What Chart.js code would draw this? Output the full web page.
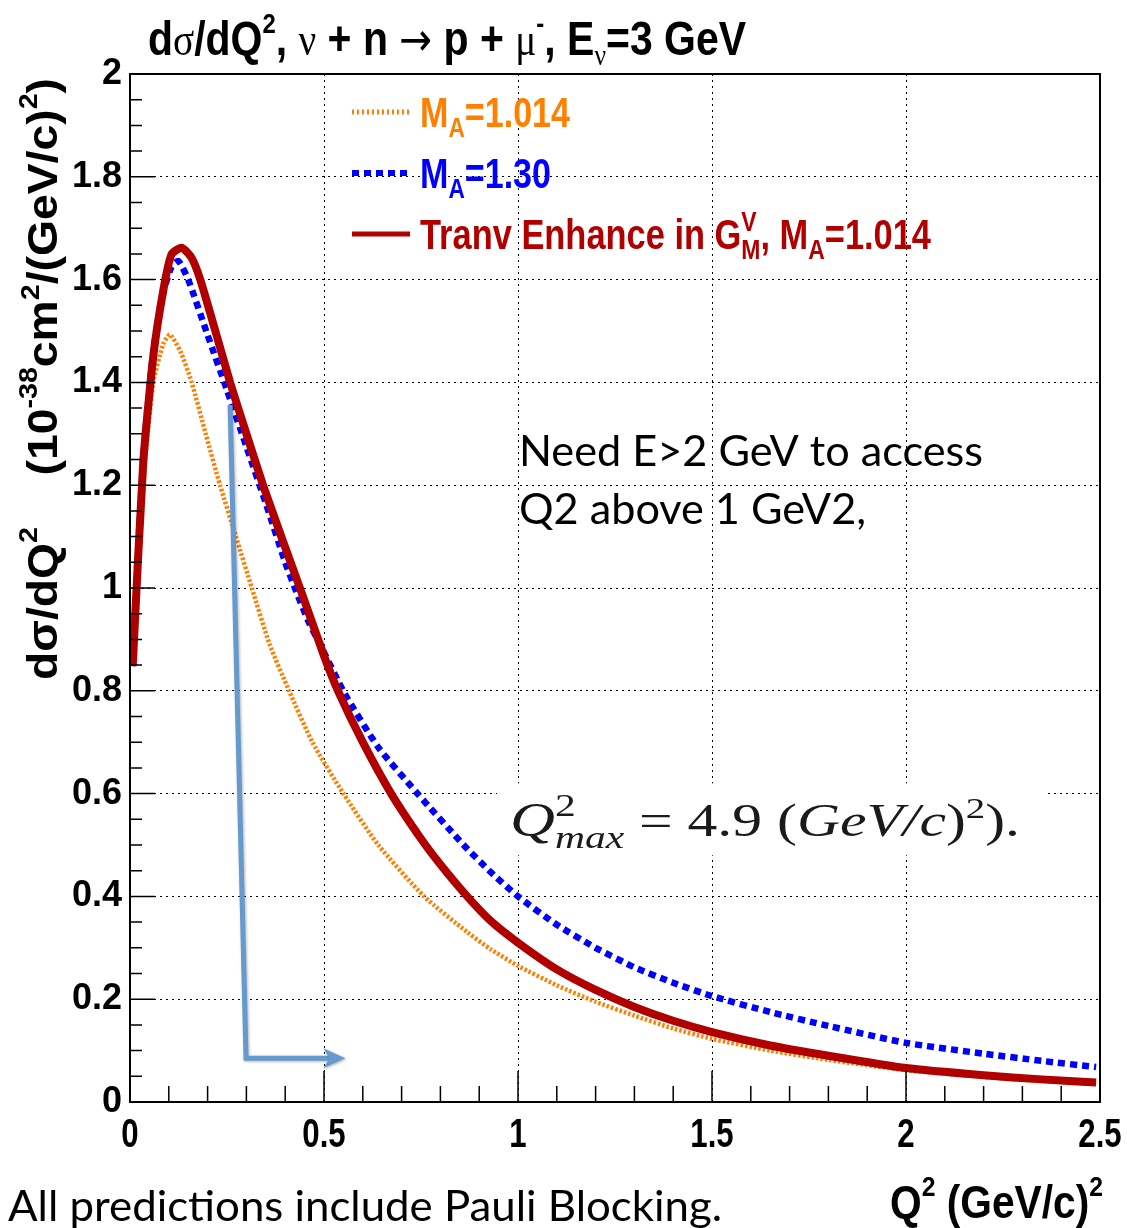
<!DOCTYPE html>
<html>
<head>
<meta charset="utf-8">
<script src="https://cdn.jsdelivr.net/npm/chart.js@4.4.1/dist/chart.umd.min.js"></script>
<style>
  body { margin: 0; background: #fff; }
  #wrap { width: 1127px; height: 1228px; position: relative; }
</style>
</head>
<body>
<div id="wrap"><canvas id="xsec"></canvas></div>
<script>
// Q^2 (GeV/c)^2 and dsigma/dQ^2 (1e-38 cm^2/(GeV/c)^2)
var qRed = [0.007,0.034,0.060,0.086,0.107,0.133,0.159,0.181,0.22,0.258,0.30,0.343,0.39,0.438,0.50,0.536,0.60,0.673,0.75,0.80,0.869,0.93,1.0,1.1,1.2,1.3,1.4,1.5,1.65,1.8,2.0,2.2,2.35,2.49];
var sRed = [0.848,1.243,1.451,1.58,1.649,1.662,1.642,1.60,1.50,1.40,1.30,1.20,1.10,1.00,0.868,0.80,0.70,0.60,0.512,0.462,0.40,0.352,0.31,0.258,0.218,0.185,0.158,0.136,0.11,0.09,0.066,0.052,0.044,0.038];

var qBlue = [0.007,0.034,0.060,0.086,0.107,0.125,0.150,0.20,0.25,0.30,0.35,0.40,0.425,0.46,0.49,0.553,0.64,0.741,0.86,0.93,1.0,1.1,1.2,1.3,1.4,1.5,1.65,1.8,2.0,2.2,2.35,2.49];
var sBlue = [0.848,1.25,1.46,1.575,1.625,1.636,1.60,1.492,1.385,1.275,1.165,1.05,1.00,0.935,0.89,0.795,0.69,0.60,0.50,0.447,0.40,0.345,0.30,0.262,0.232,0.206,0.175,0.148,0.115,0.094,0.08,0.068];

var qOrange = [0.007,0.034,0.060,0.086,0.103,0.13,0.159,0.195,0.232,0.273,0.314,0.36,0.41,0.47,0.55,0.64,0.758,0.87,0.93,1.0,1.1,1.2,1.3,1.4,1.5,1.65,1.8,2.0,2.2,2.35,2.49];
var sOrange = [0.848,1.20,1.40,1.475,1.493,1.46,1.40,1.30,1.20,1.10,1.00,0.89,0.80,0.70,0.60,0.50,0.40,0.33,0.297,0.265,0.227,0.195,0.168,0.143,0.123,0.10,0.082,0.062,0.049,0.041,0.035];

var xTicks = [0, 0.5, 1, 1.5, 2, 2.5];
var yTicks = [0, 0.2, 0.4, 0.6, 0.8, 1, 1.2, 1.4, 1.6, 1.8, 2];

// arrow annotation (data coords)
var arrowQ = [0.258, 0.299, 0.555];
var arrowS = [1.356, 0.085, 0.085];

var RED = '#b00000', BLUE = '#0000ff', ORANGE = '#ff7f00', ARROW = '#6699cc';

function pts(q, s) {
  return q.map(function (v, i) { return { x: v, y: s[i] }; });
}

var SANS = '"Liberation Sans", Arial, sans-serif';
var SERIF = '"Liberation Serif", "DejaVu Serif", serif';
var NOTE = 'Lato, "Open Sans", sans-serif';
function bold(px) { return 'bold ' + px + 'px ' + SANS; }

// draw a run of text pieces: [text, font, dy, keep]; keep = do not advance
function rich(ctx, parts, x, y, o) {
  o = o || {};
  var w = 0;
  parts.forEach(function (p) {
    ctx.font = p[1];
    if (!p[3]) w += ctx.measureText(p[0]).width;
  });
  var sx = o.width ? o.width / w : (o.sx || 1);
  ctx.save();
  ctx.translate(x, y);
  if (o.rot) ctx.rotate(o.rot);
  ctx.scale(sx, 1);
  ctx.fillStyle = o.color || '#000';
  ctx.textBaseline = 'alphabetic';
  ctx.textAlign = 'left';
  var cx = 0;
  if (o.align === 'right') cx = -w;
  if (o.align === 'center') cx = -w / 2;
  parts.forEach(function (p) {
    ctx.font = p[1];
    ctx.fillText(p[0], cx, p[2] || 0);
    if (!p[3]) cx += ctx.measureText(p[0]).width;
  });
  ctx.restore();
}

var decor = {
  id: 'decor',
  beforeDatasetsDraw: function (chart) {
    var ctx = chart.ctx, xs = chart.scales.x, ys = chart.scales.y;
    // white patch behind the pasted formula
    var x0 = xs.getPixelForValue(0.946), x1 = xs.getPixelForValue(2.358);
    var y0 = ys.getPixelForValue(0.62), y1 = ys.getPixelForValue(0.48);
    ctx.save();
    ctx.fillStyle = '#fff';
    ctx.fillRect(x0, y0, x1 - x0, y1 - y0);
    ctx.restore();
  },
  afterDraw: function (chart) {
    var ctx = chart.ctx, a = chart.chartArea;
    var xs = chart.scales.x, ys = chart.scales.y;
    var i, p;

    // frame
    ctx.save();
    ctx.strokeStyle = '#000';
    ctx.lineWidth = 2;
    ctx.strokeRect(a.left, a.top, a.right - a.left, a.bottom - a.top);

    // ticks, drawn inward like ROOT
    ctx.lineWidth = 1.5;
    ctx.beginPath();
    for (i = 0; i <= 25; i++) {
      p = xs.getPixelForValue(i / 10);
      ctx.moveTo(p, a.bottom);
      ctx.lineTo(p, a.bottom - (i % 5 === 0 ? 31 : 16));
    }
    for (i = 0; i <= 40; i++) {
      p = ys.getPixelForValue(i * 0.05);
      ctx.moveTo(a.left, p);
      ctx.lineTo(a.left + (i % 4 === 0 ? 25 : 12), p);
    }
    ctx.stroke();
    ctx.restore();

    // x tick labels (condensed bold)
    xTicks.forEach(function (v) {
      rich(ctx, [[String(v), bold(40)]], xs.getPixelForValue(v), a.bottom + 45, { align: 'center', sx: 0.78 });
    });

    // arrow
    ctx.save();
    ctx.strokeStyle = ARROW;
    ctx.fillStyle = ARROW;
    ctx.lineWidth = 5;
    ctx.lineJoin = 'miter';
    ctx.shadowColor = 'rgba(0,0,0,0.3)';
    ctx.shadowBlur = 3;
    ctx.shadowOffsetX = 1;
    ctx.shadowOffsetY = 1;
    var ax = arrowQ.map(function (v) { return xs.getPixelForValue(v); });
    var ay = arrowS.map(function (v) { return ys.getPixelForValue(v); });
    ctx.beginPath();
    ctx.moveTo(ax[0], ay[0]);
    ctx.lineTo(ax[1], ay[1]);
    ctx.lineTo(ax[2] - 14, ay[2]);
    ctx.stroke();
    ctx.beginPath();
    ctx.moveTo(ax[2], ay[2]);
    ctx.lineTo(ax[2] - 22, ay[2] - 10);
    ctx.lineTo(ax[2] - 16, ay[2]);
    ctx.lineTo(ax[2] - 22, ay[2] + 10);
    ctx.closePath();
    ctx.fill();
    ctx.restore();

    // legend
    var leg = [
      { c: ORANGE, w: 5, d: [2, 3], y: 112, tw: 150,
        t: [['M', bold(42)], ['A', bold(28), 10], ['=1.014', bold(42)]] },
      { c: BLUE, w: 6, d: [7, 5], y: 173, tw: 131,
        t: [['M', bold(42)], ['A', bold(28), 10], ['=1.30', bold(42)]] },
      { c: RED, w: 5, d: [], y: 234, tw: 511,
        t: [['Tranv Enhance in G', bold(42)], ['V', bold(28), -18, true], ['M', bold(28), 10],
            [', M', bold(42)], ['A', bold(28), 10], ['=1.014', bold(42)]] }
    ];
    leg.forEach(function (e) {
      ctx.save();
      ctx.strokeStyle = e.c;
      ctx.lineWidth = e.w;
      ctx.setLineDash(e.d);
      ctx.beginPath();
      ctx.moveTo(352, e.y);
      ctx.lineTo(410, e.y);
      ctx.stroke();
      ctx.restore();
      rich(ctx, e.t, 420, e.y + 15, { color: e.c, width: e.tw });
    });

    // title
    rich(ctx, [
      ['d', bold(48)], ['\u03c3', '46px ' + SERIF], ['/dQ', bold(48)], ['2', bold(28), -22],
      [', ', bold(48)], ['\u03bd', '46px ' + SERIF], [' + n ', bold(48)], ['\u2192', '46px "DejaVu Sans"'],
      [' p + ', bold(48)], ['\u03bc', '46px ' + SERIF], ['-', bold(28), -22], [', E', bold(48)],
      ['\u03bd', '30px ' + SERIF, 10], ['=3 GeV', bold(48)]
    ], 148, 55, { width: 598 });

    // y axis title
    rich(ctx, [
      ['d\u03c3/dQ', bold(42)], ['2', bold(26), -20], ['    (10', bold(42)], ['-38', bold(26), -20],
      ['cm', bold(42)], ['2', bold(26), -18], ['/(GeV/c)', bold(42)], ['2', bold(26), -20], [')', bold(42)]
    ], 57, 680, { rot: -Math.PI / 2, width: 602 });

    // x axis title
    rich(ctx, [
      ['Q', bold(46)], ['2', bold(28), -22], [' (GeV/c)', bold(46)], ['2', bold(28), -22]
    ], 890, 1218, { width: 213 });

    // note and comments
    rich(ctx, [['All predictions include Pauli Blocking.', '42px ' + NOTE]], 8, 1221, { width: 714 });
    rich(ctx, [['Need E>2 GeV to access', '42px ' + NOTE]], 519, 466, { width: 464 });
    rich(ctx, [['Q2 above 1 GeV2,', '42px ' + NOTE]], 519, 524, { width: 347 });

    // pasted formula
    rich(ctx, [
      ['Q', 'italic 48px ' + SERIF], ['2', '32px ' + SERIF, -20, true], ['max', 'italic 32px ' + SERIF, 12],
      [' = 4.9 (', '46px ' + SERIF], ['GeV/c', 'italic 46px ' + SERIF], [')', '46px ' + SERIF],
      ['2', '30px ' + SERIF, -18], [').', '46px ' + SERIF]
    ], 510, 836, { width: 510, color: '#1a1a1a' });
  }
};

new Chart(document.getElementById('xsec'), {
  type: 'line',
  data: {
    datasets: [
      { label: 'Tranv Enhance in G_M^V, M_A=1.014', data: pts(qRed, sRed), borderColor: RED,
        borderWidth: 8, order: 0 },
      { label: 'M_A=1.30', data: pts(qBlue, sBlue), borderColor: BLUE,
        borderWidth: 6.5, borderDash: [7, 5], order: 1 },
      { label: 'M_A=1.014', data: pts(qOrange, sOrange), borderColor: ORANGE,
        borderWidth: 4.5, borderDash: [2.5, 2], order: 2 }
    ].map(function (d) {
      d.pointRadius = 0;
      d.fill = false;
      d.tension = 0.2;
      d.borderJoinStyle = 'miter';
      return d;
    })
  },
  options: {
    responsive: true,
    maintainAspectRatio: false,
    animation: false,
    layout: { padding: { left: 0, right: 27, top: 74, bottom: 0 } },
    plugins: { legend: { display: false }, tooltip: { enabled: false } },
    scales: {
      x: {
        type: 'linear', min: 0, max: 2.5,
        afterBuildTicks: function (s) { s.ticks = xTicks.map(function (v) { return { value: v }; }); },
        ticks: { display: false },
        grid: { color: '#000', lineWidth: 1, drawTicks: false, borderDash: [2, 4] },
        border: { display: false, dash: [2, 4] },
        afterFit: function (s) { s.height = 126; }
      },
      y: {
        min: 0, max: 2,
        afterBuildTicks: function (s) { s.ticks = yTicks.map(function (v) { return { value: v }; }); },
        ticks: { color: '#000', padding: 8, autoSkip: false,
          callback: function (v) { return String(+v.toFixed(2)); },
          font: { family: '"Liberation Sans", Arial', weight: 'bold', size: 36 } },
        grid: { color: '#000', lineWidth: 1, drawTicks: false, borderDash: [2, 4] },
        border: { display: false, dash: [2, 4] },
        afterFit: function (s) { s.width = 130; }
      }
    }
  },
  plugins: [decor]
});
</script>
</body>
</html>
